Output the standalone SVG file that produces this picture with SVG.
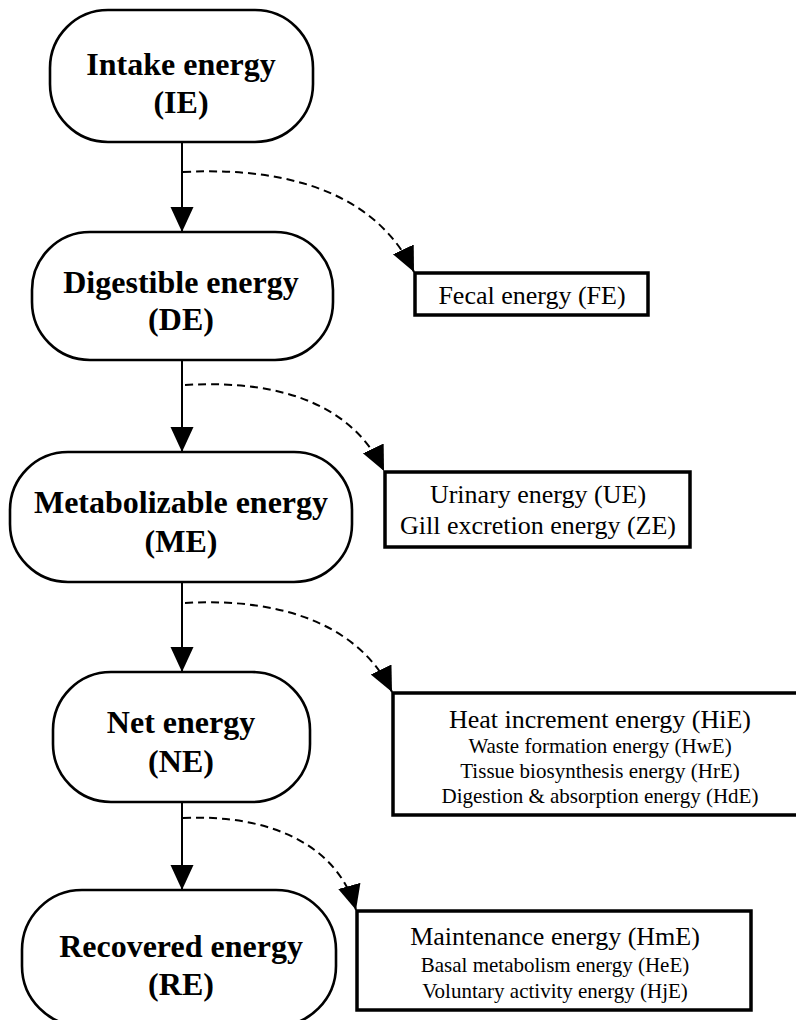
<svg xmlns="http://www.w3.org/2000/svg" width="796" height="1020" viewBox="0 0 796 1020">
<style>
.node{fill:#fff;stroke:#000;stroke-width:2.6}
.box{fill:#fff;stroke:#000;stroke-width:3.5}
.nt{font-family:'Liberation Serif','Times New Roman',Times,'Nimbus Roman',serif;font-weight:bold;font-size:32px;text-anchor:middle;fill:#000}
.bt{font-family:'Liberation Serif','Times New Roman',Times,'Nimbus Roman',serif;font-size:26px;text-anchor:middle;fill:#000}
.st{font-family:'Liberation Serif','Times New Roman',Times,'Nimbus Roman',serif;font-size:21px;text-anchor:middle;fill:#000}
.solid{fill:none;stroke:#000;stroke-width:2}
.dash{fill:none;stroke:#000;stroke-width:2;stroke-dasharray:8 5}
</style>
<defs>
<marker id="ah" markerUnits="userSpaceOnUse" markerWidth="26" markerHeight="24" refX="25" refY="11.5" orient="auto" viewBox="0 0 26 24">
<path d="M0,0 L25,11.5 L0,23 Z" fill="#000"/>
</marker>
</defs>
<g id="connectors">
<line class="solid" x1="182" y1="142" x2="182" y2="232" marker-end="url(#ah)"/>
<line class="solid" x1="182" y1="360" x2="182" y2="452" marker-end="url(#ah)"/>
<line class="solid" x1="182" y1="582" x2="182" y2="672" marker-end="url(#ah)"/>
<line class="solid" x1="182" y1="802" x2="182" y2="890" marker-end="url(#ah)"/>
<path class="dash" d="M183,172 C300,166 380,200 414,272" marker-end="url(#ah)"/>
<path class="dash" d="M185,385 C290,379 355,410 384,471" marker-end="url(#ah)"/>
<path class="dash" d="M185,603 C290,597 362,630 392,692" marker-end="url(#ah)"/>
<path class="dash" d="M183,818 C270,814 338,845 356,910" marker-end="url(#ah)"/>
</g>
<g id="IE">
<rect class="node" x="50" y="10" width="263" height="132" rx="58" ry="58"/>
<text class="nt" x="181" y="75">Intake energy</text>
<text class="nt" x="181" y="113">(IE)</text>
</g>
<g id="DE">
<rect class="node" x="32" y="232" width="301" height="128" rx="58" ry="58"/>
<text class="nt" x="181" y="293">Digestible energy</text>
<text class="nt" x="181" y="330">(DE)</text>
</g>
<g id="ME">
<rect class="node" x="10" y="452" width="342" height="130" rx="58" ry="58"/>
<text class="nt" x="181" y="513">Metabolizable energy</text>
<text class="nt" x="181" y="552">(ME)</text>
</g>
<g id="NE">
<rect class="node" x="53" y="672" width="257" height="130" rx="58" ry="58"/>
<text class="nt" x="181" y="733">Net energy</text>
<text class="nt" x="181" y="772">(NE)</text>
</g>
<g id="RE">
<rect class="node" x="22" y="890" width="314" height="136" rx="60" ry="60"/>
<text class="nt" x="181" y="957">Recovered energy</text>
<text class="nt" x="181" y="995">(RE)</text>
</g>
<g id="FE">
<rect class="box" x="415" y="273" width="233" height="42"/>
<text class="bt" x="532" y="304">Fecal energy (FE)</text>
</g>
<g id="UE">
<rect class="box" x="385" y="472" width="305" height="75"/>
<text class="bt" x="538" y="503">Urinary energy (UE)</text>
<text class="bt" x="538" y="534">Gill excretion energy (ZE)</text>
</g>
<g id="HiE">
<rect class="box" x="393" y="693" width="410" height="122"/>
<text class="bt" x="600" y="728">Heat increment energy (HiE)</text>
<text class="st" x="600" y="753">Waste formation energy (HwE)</text>
<text class="st" x="600" y="778">Tissue biosynthesis energy (HrE)</text>
<text class="st" x="600" y="803">Digestion &amp; absorption energy (HdE)</text>
</g>
<g id="HmE">
<rect class="box" x="357" y="911" width="394" height="99"/>
<text class="bt" x="555" y="945">Maintenance energy (HmE)</text>
<text class="st" x="555" y="972">Basal metabolism energy (HeE)</text>
<text class="st" x="555" y="998">Voluntary activity energy (HjE)</text>
</g>
</svg>
